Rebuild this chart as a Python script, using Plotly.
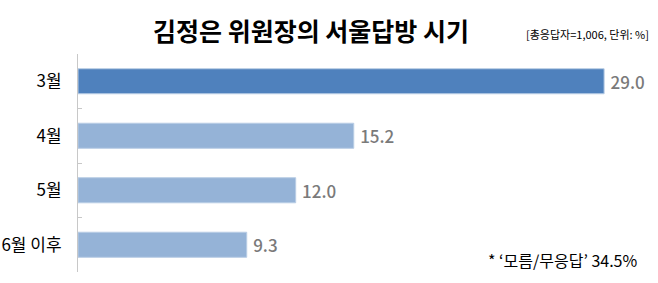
import plotly.graph_objects as go

categories = ["3월", "4월", "5월", "6월 이후"]
values = [29.0, 15.2, 12.0, 9.3]
bar_colors = ["#4F81BD", "#95B3D7", "#95B3D7", "#95B3D7"]
value_labels = ["29.0", "15.2", "12.0", "9.3"]

title_text = "김정은 위원장의 서울답방 시기"
subtitle_text = "[총응답자=1,006, 단위: %]"
footnote_text = "* ‘모름/무응답’ 34.5%"

KR = "Noto Sans CJK KR"

fig = go.Figure()
fig.add_trace(go.Bar(
    y=categories,
    x=values,
    orientation="h",
    width=0.46,
    marker=dict(color=bar_colors, line=dict(color="#B9CDE5", width=1)),
    text=["\u2009" + t for t in value_labels],
    textposition="outside",
    textfont=dict(family=KR, size=17, color="#7A7A7A", weight=500),
    cliponaxis=False,
    hoverinfo="skip",
))

fig.update_layout(
    width=658, height=283,
    margin=dict(l=78, r=0, t=54, b=11),
    paper_bgcolor="white",
    plot_bgcolor="white",
    showlegend=False,
    bargap=0.54,
    xaxis=dict(range=[0, 31.97], visible=False, fixedrange=True),
    yaxis=dict(
        categoryorder="array", categoryarray=categories,
        autorange="reversed",
        showline=True, linecolor="#C8C8C8", linewidth=1,
        ticks="inside", tickson="boundaries", ticklen=4, tickcolor="#C8C8C8",
        showgrid=False,
        ticklabelstandoff=12,
        tickfont=dict(family=KR, size=17, color="#000000"),
        fixedrange=True,
    ),
    annotations=[
        dict(text="<b>" + title_text + "</b>", x=311, y=30,
             showarrow=False, font=dict(family=KR, size=25, color="#000000"),
             xanchor="center", yanchor="middle"),
        dict(text=subtitle_text, x=651, y=34, showarrow=False,
             font=dict(family=KR, size=11, color="#000000"),
             xanchor="right", yanchor="middle"),
        dict(text=footnote_text, x=639, y=260, showarrow=False,
             font=dict(family=KR, size=16, color="#000000"),
             xanchor="right", yanchor="middle"),
    ],
)

# convert pixel positions of annotations to paper coordinates
pl, pr, pt, pb = 78, 0, 54, 11
pw = 658 - pl - pr
ph = 283 - pt - pb
for a in fig.layout.annotations:
    px, py = a.x, a.y
    a.xref = "paper"
    a.yref = "paper"
    a.x = (px - pl) / pw
    a.y = 1 - (py - pt) / ph

fig.write_html("out.html")
